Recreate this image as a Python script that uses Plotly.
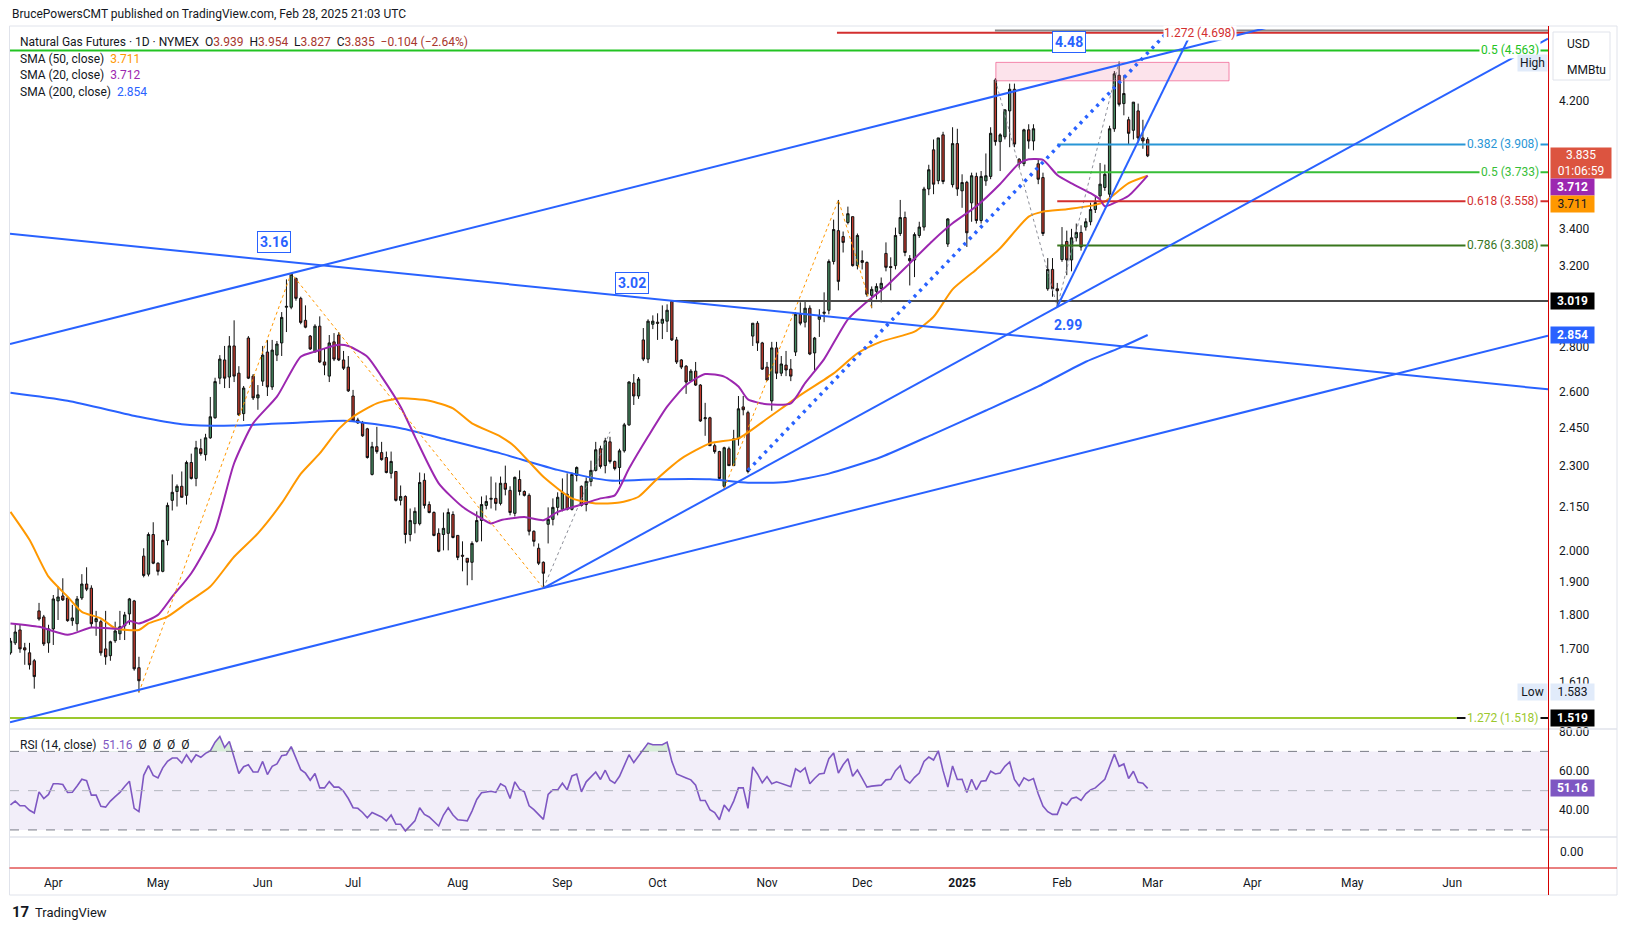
import math
import numpy as np
import pandas as pd
import plotly.graph_objects as go

# ------------------------------------------------------------------ data
first_bar = "2024-03-18"
holidays = ["2024-03-29", "2024-05-27", "2024-06-19", "2024-07-04", "2024-09-02",
            "2024-11-28", "2024-12-25", "2025-01-01", "2025-01-20", "2025-02-17",
            "2025-04-18", "2025-05-26", "2025-06-19", "2025-07-04"]

opens = [
    1.690, 1.718, 1.755, 1.704, 1.690, 1.668, 1.811, 1.793, 1.718,
    1.758, 1.841, 1.856, 1.850, 1.782, 1.773, 1.850, 1.893, 1.880, 1.779,
    1.779, 1.701, 1.682, 1.724, 1.744, 1.767, 1.802, 1.841, 1.649, 1.982,
    1.924, 2.054, 1.959, 1.933, 2.034, 2.173, 2.205, 2.224, 2.191, 2.313,
    2.253, 2.366, 2.343, 2.409, 2.490, 2.658, 2.739, 2.663, 2.803, 2.680,
    2.507, 2.840, 2.667, 2.573, 2.645, 2.775, 2.620, 2.761, 2.817, 2.988,
    2.988, 3.133, 3.032, 2.924, 2.849, 2.775, 2.896, 2.730, 2.667, 2.822,
    2.854, 2.739, 2.707, 2.581, 2.481, 2.469, 2.445, 2.268, 2.374, 2.351,
    2.332, 2.272, 2.279, 2.173, 2.187, 2.054, 2.091, 2.091, 2.246, 2.158,
    2.130, 2.058, 2.054, 2.058, 2.123, 2.051, 1.985, 1.975, 1.962, 2.031,
    2.102, 2.155, 2.177, 2.180, 2.162, 2.235, 2.209, 2.127, 2.249, 2.205,
    2.191, 2.065, 2.008, 1.962, 2.089, 2.106, 2.148, 2.141, 2.195, 2.141,
    2.264, 2.224, 2.158, 2.242, 2.283, 2.366, 2.301, 2.393, 2.317, 2.294,
    2.358, 2.461, 2.637, 2.581, 2.831, 2.743, 2.905, 2.915, 2.910, 2.920,
    3.017, 2.831, 2.739, 2.711, 2.645, 2.689, 2.628, 2.486, 2.490, 2.378,
    2.355, 2.224, 2.366, 2.301, 2.405, 2.535, 2.511, 2.849, 2.910, 2.817,
    2.707, 2.560, 2.794, 2.680, 2.716, 2.698, 2.775, 2.953, 2.915, 2.983,
    2.771, 2.929, 2.958, 2.973, 3.222, 3.390, 3.357, 3.436, 3.469, 3.200,
    3.227, 3.217, 3.047, 3.067, 3.082, 3.265, 3.195, 3.200, 3.374, 3.464,
    3.226, 3.230, 3.363, 3.410, 3.631, 3.873, 3.681, 3.970, 3.316, 3.657,
    3.913, 3.620, 3.671, 3.549, 3.707, 3.447, 3.680, 3.707, 4.346, 3.926,
    3.957, 4.130, 4.280, 3.814, 3.786, 4.003, 3.930, 3.785, 3.700, 3.080,
    3.180, 3.080, 3.232, 3.330, 3.230, 3.350, 3.380, 3.410, 3.440, 3.510,
    3.590, 3.640, 3.600, 4.010, 4.380, 4.180, 4.070, 4.000, 4.130, 3.950,
    3.939]

highs = [
    1.732, 1.775, 1.770, 1.718, 1.718, 1.673, 1.835, 1.799, 1.770,
    1.859, 1.886, 1.911, 1.856, 1.829, 1.856, 1.924, 1.946, 1.889, 1.811,
    1.785, 1.811, 1.724, 1.779, 1.811, 1.808, 1.850, 1.844, 1.679, 2.008,
    2.061, 2.096, 1.962, 2.037, 2.165, 2.268, 2.231, 2.279, 2.320, 2.347,
    2.397, 2.405, 2.425, 2.577, 2.660, 2.761, 2.803, 2.849, 2.924, 2.711,
    2.624, 2.849, 2.676, 2.628, 2.803, 2.831, 2.831, 2.826, 2.964, 3.128,
    3.160, 3.138, 3.040, 2.997, 2.854, 2.905, 2.943, 2.789, 2.854, 2.863,
    2.868, 2.780, 2.757, 2.607, 2.490, 2.477, 2.449, 2.393, 2.453, 2.393,
    2.355, 2.355, 2.279, 2.227, 2.191, 2.144, 2.148, 2.275, 2.272, 2.169,
    2.134, 2.075, 2.130, 2.144, 2.134, 2.051, 2.031, 1.975, 2.031, 2.134,
    2.187, 2.191, 2.260, 2.238, 2.260, 2.301, 2.224, 2.260, 2.283, 2.209,
    2.198, 2.068, 2.024, 1.965, 2.148, 2.180, 2.202, 2.253, 2.272, 2.275,
    2.298, 2.227, 2.257, 2.320, 2.393, 2.378, 2.409, 2.413, 2.320, 2.366,
    2.469, 2.645, 2.676, 2.663, 2.887, 2.929, 2.948, 2.958, 2.997, 3.002,
    3.022, 2.845, 2.743, 2.716, 2.698, 2.730, 2.632, 2.552, 2.494, 2.386,
    2.358, 2.374, 2.374, 2.441, 2.581, 2.581, 2.519, 2.910, 2.920, 2.822,
    2.730, 2.822, 2.822, 2.757, 2.780, 2.743, 2.964, 3.012, 3.017, 2.997,
    2.845, 2.978, 3.062, 3.233, 3.452, 3.566, 3.385, 3.527, 3.469, 3.374,
    3.281, 3.222, 3.092, 3.108, 3.138, 3.325, 3.244, 3.407, 3.566, 3.498,
    3.256, 3.380, 3.440, 3.644, 3.779, 3.940, 3.950, 3.990, 3.460, 4.020,
    4.010, 3.720, 3.680, 3.730, 3.730, 3.740, 3.850, 4.020, 4.360, 3.980,
    4.140, 4.320, 4.320, 3.820, 4.010, 4.040, 4.040, 3.810, 3.730, 3.240,
    3.240, 3.110, 3.410, 3.390, 3.400, 3.430, 3.420, 3.460, 3.550, 3.590,
    3.790, 3.780, 4.030, 4.410, 4.480, 4.380, 4.090, 4.190, 4.180, 4.070,
    3.954]

lows = [
    1.685, 1.712, 1.690, 1.657, 1.644, 1.593, 1.782, 1.709, 1.690,
    1.712, 1.784, 1.841, 1.779, 1.767, 1.752, 1.844, 1.871, 1.761, 1.738,
    1.682, 1.657, 1.668, 1.718, 1.726, 1.726, 1.770, 1.641, 1.583, 1.914,
    1.917, 1.956, 1.920, 1.930, 2.018, 2.137, 2.151, 2.184, 2.158, 2.249,
    2.224, 2.339, 2.320, 2.405, 2.486, 2.632, 2.615, 2.615, 2.641, 2.498,
    2.477, 2.654, 2.564, 2.523, 2.624, 2.581, 2.607, 2.734, 2.757, 2.868,
    2.978, 3.020, 2.905, 2.886, 2.785, 2.775, 2.725, 2.671, 2.641, 2.734,
    2.734, 2.694, 2.598, 2.473, 2.465, 2.413, 2.328, 2.264, 2.347, 2.320,
    2.272, 2.253, 2.169, 2.155, 2.024, 2.031, 2.058, 2.085, 2.144, 2.127,
    2.048, 1.995, 2.001, 2.001, 2.041, 1.969, 1.933, 1.889, 1.905, 2.027,
    2.031, 2.141, 2.144, 2.137, 2.155, 2.191, 2.120, 2.116, 2.191, 2.187,
    2.051, 2.014, 1.953, 1.880, 2.024, 2.085, 2.120, 2.134, 2.137, 2.137,
    2.242, 2.151, 2.134, 2.224, 2.279, 2.290, 2.272, 2.309, 2.283, 2.231,
    2.351, 2.457, 2.543, 2.569, 2.734, 2.725, 2.882, 2.831, 2.835, 2.868,
    2.826, 2.721, 2.698, 2.590, 2.641, 2.624, 2.473, 2.417, 2.378, 2.347,
    2.249, 2.216, 2.301, 2.301, 2.378, 2.500, 2.272, 2.803, 2.780, 2.694,
    2.645, 2.519, 2.654, 2.667, 2.667, 2.645, 2.757, 2.900, 2.890, 2.761,
    2.689, 2.845, 2.915, 2.953, 3.206, 3.072, 3.270, 3.425, 3.195, 3.180,
    3.180, 3.040, 2.983, 3.027, 3.012, 3.170, 3.072, 3.180, 3.360, 3.250,
    3.097, 3.140, 3.350, 3.390, 3.594, 3.600, 3.660, 3.660, 3.300, 3.640,
    3.590, 3.520, 3.300, 3.440, 3.430, 3.430, 3.650, 3.690, 3.900, 3.740,
    3.940, 3.890, 3.890, 3.760, 3.770, 3.880, 3.870, 3.660, 3.360, 3.070,
    3.040, 2.990, 3.220, 3.150, 3.170, 3.330, 3.280, 3.390, 3.420, 3.490,
    3.570, 3.620, 3.580, 3.990, 4.160, 4.100, 3.910, 3.940, 3.920, 3.880,
    3.827]

closes = [
    1.723, 1.749, 1.701, 1.698, 1.657, 1.625, 1.787, 1.715, 1.758,
    1.847, 1.853, 1.844, 1.782, 1.790, 1.847, 1.893, 1.877, 1.773, 1.788,
    1.690, 1.679, 1.721, 1.752, 1.764, 1.799, 1.847, 1.646, 1.614, 1.920,
    2.054, 1.959, 1.933, 2.034, 2.155, 2.202, 2.224, 2.184, 2.313, 2.253,
    2.370, 2.347, 2.409, 2.494, 2.643, 2.743, 2.658, 2.803, 2.667, 2.502,
    2.615, 2.658, 2.573, 2.586, 2.761, 2.620, 2.784, 2.812, 2.938, 2.992,
    3.155, 3.032, 2.914, 2.891, 2.789, 2.896, 2.730, 2.716, 2.817, 2.743,
    2.739, 2.702, 2.603, 2.477, 2.469, 2.417, 2.332, 2.374, 2.355, 2.324,
    2.275, 2.317, 2.173, 2.187, 2.054, 2.102, 2.134, 2.238, 2.155, 2.130,
    2.051, 1.998, 2.075, 2.130, 2.044, 1.978, 1.982, 1.962, 2.024, 2.102,
    2.158, 2.169, 2.180, 2.162, 2.235, 2.213, 2.130, 2.257, 2.205, 2.191,
    2.065, 2.031, 1.959, 1.927, 2.106, 2.148, 2.184, 2.202, 2.141, 2.268,
    2.294, 2.155, 2.242, 2.283, 2.362, 2.298, 2.397, 2.317, 2.290, 2.358,
    2.461, 2.641, 2.581, 2.654, 2.743, 2.920, 2.920, 2.910, 2.929, 2.973,
    2.831, 2.730, 2.707, 2.641, 2.689, 2.628, 2.477, 2.490, 2.378, 2.355,
    2.253, 2.370, 2.301, 2.405, 2.527, 2.523, 2.279, 2.910, 2.817, 2.698,
    2.650, 2.794, 2.680, 2.721, 2.694, 2.667, 2.953, 2.910, 2.983, 2.766,
    2.840, 2.944, 2.963, 3.222, 3.396, 3.118, 3.325, 3.486, 3.200, 3.363,
    3.217, 3.052, 3.077, 3.092, 3.108, 3.191, 3.190, 3.363, 3.464, 3.270,
    3.238, 3.368, 3.410, 3.631, 3.748, 3.660, 3.950, 3.676, 3.456, 3.913,
    3.631, 3.670, 3.378, 3.711, 3.447, 3.707, 3.711, 3.980, 3.926, 3.970,
    4.137, 4.280, 3.910, 3.786, 4.003, 3.930, 4.010, 3.690, 3.374, 3.180,
    3.080, 3.070, 3.310, 3.230, 3.350, 3.380, 3.300, 3.440, 3.510, 3.550,
    3.660, 3.720, 4.010, 4.390, 4.175, 4.250, 3.980, 4.190, 3.950, 3.930,
    3.835]

rsi_values = [
    42.7, 44.7, 42.3, 42.3, 40.0, 38.6, 49.4, 46.0, 48.1,
    53.5, 53.5, 53.1, 49.1, 49.2, 52.4, 55.8, 55.1, 47.7, 47.7,
    42.0, 41.6, 44.7, 47.0, 49.1, 52.1, 54.8, 41.0, 39.3, 57.8,
    62.7, 57.8, 56.5, 61.6, 64.9, 66.6, 66.6, 64.1, 68.3, 64.6,
    68.3, 67.0, 69.0, 70.3, 74.7, 77.6, 72.0, 75.1, 67.0, 58.7,
    62.2, 63.2, 59.5, 59.5, 64.9, 58.2, 62.4, 63.6, 67.8, 68.3,
    72.4, 67.0, 60.7, 58.9, 55.3, 58.7, 51.4, 51.4, 54.6, 51.8,
    51.8, 49.7, 46.0, 41.3, 41.0, 38.9, 36.2, 38.9, 37.9, 36.6,
    34.6, 37.6, 32.9, 32.9, 29.5, 32.2, 34.6, 41.3, 37.9, 36.6,
    34.2, 32.0, 37.6, 41.3, 37.6, 35.2, 34.9, 34.6, 39.6, 45.5,
    48.9, 49.4, 49.7, 49.1, 53.5, 52.1, 46.0, 54.5, 50.8, 49.4,
    42.3, 40.3, 37.9, 35.4, 48.1, 50.4, 50.4, 53.8, 50.4, 57.5,
    58.5, 49.4, 54.5, 57.0, 59.5, 55.7, 60.4, 55.3, 53.8, 57.3,
    62.9, 68.3, 64.3, 67.6, 70.8, 74.2, 73.4, 73.4, 73.4, 74.7,
    64.9, 58.5, 57.3, 56.5, 55.5, 52.8, 45.0, 45.0, 40.3, 38.8,
    35.2, 42.7, 39.6, 44.7, 51.4, 51.4, 41.0, 62.1, 58.5, 54.0,
    57.2, 53.5, 54.5, 53.8, 52.8, 52.0, 61.1, 59.5, 61.6, 53.5,
    56.2, 58.5, 58.9, 66.3, 69.2, 58.9, 63.2, 66.3, 57.3, 60.5,
    56.2, 51.8, 52.3, 52.4, 52.8, 55.5, 55.8, 60.2, 62.7, 55.7,
    53.8, 56.8, 59.0, 64.9, 67.1, 65.6, 70.3, 60.2, 51.8, 62.6,
    55.7, 55.8, 49.1, 55.8, 50.4, 54.8, 55.1, 59.9, 58.5, 59.0,
    62.4, 64.6, 55.7, 52.3, 56.5, 55.1, 56.2, 48.4, 42.2, 39.3,
    37.9, 37.9, 44.0, 42.7, 46.0, 46.7, 45.0, 48.4, 50.4, 51.4,
    53.5, 55.8, 62.2, 68.6, 62.4, 63.6, 56.2, 59.9, 54.3, 53.8,
    51.16]

# moving averages (bar index, value)
sma20_idx = [0, 6, 12, 17, 23, 25, 27, 31, 34, 38, 43, 47, 51, 56, 61, 64, 69, 71, 75, 78,
             82, 85, 90, 95, 99, 101, 103, 108, 112, 115, 119, 124, 127, 130, 134, 138, 142,
             146, 150, 153, 155, 159, 164, 167, 171, 176, 180, 184, 189, 194, 198, 203, 208,
             212, 214, 217, 220, 223, 227, 229, 230, 232, 235, 239]
sma20_val = [1.774, 1.764, 1.741, 1.762, 1.759, 1.781, 1.774, 1.799, 1.854, 1.927, 2.069,
             2.310, 2.467, 2.578, 2.754, 2.777, 2.808, 2.803, 2.754, 2.665, 2.536, 2.414,
             2.235, 2.150, 2.109, 2.092, 2.103, 2.114, 2.103, 2.132, 2.153, 2.180, 2.191,
             2.290, 2.414, 2.536, 2.628, 2.676, 2.665, 2.622, 2.567, 2.546, 2.550, 2.636,
             2.743, 2.929, 3.015, 3.092, 3.212, 3.338, 3.431, 3.529, 3.661, 3.788, 3.813,
             3.809, 3.716, 3.665, 3.606, 3.568, 3.529, 3.549, 3.591, 3.712]

sma50_idx = [0, 4, 8, 12, 15, 19, 22, 27, 29, 33, 37, 42, 47, 52, 57, 61, 65, 69, 72, 77,
             82, 88, 93, 97, 103, 106, 112, 118, 123, 128, 132, 136, 141, 147, 153, 159,
             166, 173, 178, 183, 190, 194, 198, 203, 208, 214, 217, 222, 228, 230, 235, 239]
sma50_val = [2.132, 2.036, 1.916, 1.854, 1.808, 1.789, 1.760, 1.755, 1.774, 1.794, 1.834,
             1.885, 1.980, 2.058, 2.163, 2.270, 2.348, 2.445, 2.494, 2.550, 2.571, 2.561,
             2.529, 2.467, 2.414, 2.374, 2.259, 2.180, 2.162, 2.165, 2.186, 2.253, 2.328,
             2.387, 2.407, 2.486, 2.585, 2.679, 2.769, 2.823, 2.870, 2.941, 3.077, 3.180,
             3.293, 3.469, 3.498, 3.512, 3.537, 3.556, 3.666, 3.711]

sma200_idx = [0, 12, 27, 36, 47, 61, 71, 82, 92, 103, 115, 126, 136, 147, 155, 163, 172,
              183, 194, 205, 216, 226, 233, 239]
sma200_val = [2.595, 2.561, 2.494, 2.464, 2.458, 2.471, 2.477, 2.447, 2.400, 2.348, 2.285,
              2.245, 2.250, 2.250, 2.237, 2.240, 2.271, 2.334, 2.424, 2.520, 2.622, 2.731,
              2.793, 2.854]

# drawings: anchors as (bar index, price)
upper_channel = [(59, 3.16), (233, 4.455)]
falling_line = [(0, 3.372), (139, 3.02)]
lower_channel = [(27, 1.59), (112, 1.88)]
rising_line = [(112, 1.88), (150, 2.213)]
steep_line = [(220, 2.99), (241.6, 4.228)]
dotted_line = [(155, 2.283), (207, 3.496)]
orange_zigzag_1 = [(27, 1.583), (59, 3.16), (112, 1.88)]
orange_zigzag_2 = [(150, 2.216), (174, 3.566), (181, 2.983)]
grey_zigzag_1 = [(112, 1.88), (126, 2.433)]
grey_zigzag_2 = [(207, 4.346), (220, 2.99), (233, 4.48)]
resistance_zone = (207.1, 256.1, 4.340, 4.474)
support_line = (139, 3.019)

fib_start = 220
fib_prices = [3.908, 3.733, 3.558, 3.308]
fib_labels = ["0.382 (3.908)", "0.5 (3.733)", "0.618 (3.558)", "0.786 (3.308)"]
fib_colors = ["#2996d6", "#37be37", "#d32f2f", "#38761d"]

ext_prices = [4.563, 4.698, 4.716, 1.518]
ext_starts = [None, 173.7, 206.9, None]
ext_labels = ["0.5 (4.563)", "1.272 (4.698)", "", "1.272 (1.518)"]
ext_colors = ["#22c322", "#d32f2f", "#8a8a8a", "#9bc82e"]

swing_labels = [("3.16", 59, 3.16, -17, 31, True), ("3.02", 139, 3.02, -40, 18, True),
                ("4.48", 233, 4.48, -50, 20, True), ("2.99", 220, 2.99, 11, -18, False)]

# ------------------------------------------------------------------ layout constants
W, H = 1625, 931
ML, MR, MT, MB = 10, 77, 29, 63
PW, PH = W - ML - MR, H - MT - MB
MAIN_BOTTOM_PX, RSI_BOTTOM_PX = 729, 837
X_LO, X_HI = -0.1, 323.14
Y_LO, Y_HI = 1.4905, 4.727
RSI_LO, RSI_HI = 26.4, 81.4

def pxx(px):
    return (px - ML) / PW

def pxy(py):
    return (H - MB - py) / PH

d_main = pxy(MAIN_BOTTOM_PX)
d_rsi = pxy(RSI_BOTTOM_PX)

BLUE = "#2962ff"
TXT = "#131722"
FONT = "Roboto"

cbd = pd.offsets.CustomBusinessDay(holidays=holidays)
days = pd.date_range(first_bar, periods=340, freq=cbd)
n = len(closes)
xs = np.arange(n)

tickvals, ticktext = [], []
prev = None
for i, d in enumerate(days):
    key = (d.year, d.month)
    if key != prev:
        if prev is not None and i < X_HI - 1:
            tickvals.append(i)
            ticktext.append("<b>2025</b>" if d.month == 1 else d.strftime("%b"))
        prev = key


def line_through(anchors, x0, x1):
    (i1, v1), (i2, v2) = anchors
    s = (math.log(v2) - math.log(v1)) / (i2 - i1)
    f = lambda xx: math.exp(math.log(v1) + s * (xx - i1))
    return [x0, x1], [f(x0), f(x1)]


fig = go.Figure()

# candles
fig.add_trace(go.Candlestick(
    x=xs, open=opens, high=highs, low=lows, close=closes,
    increasing=dict(line=dict(color="#111111", width=1), fillcolor="#458a60"),
    decreasing=dict(line=dict(color="#111111", width=1), fillcolor="#c13a2d"),
    whiskerwidth=0, hoverinfo="skip", xaxis="x", yaxis="y"))

# resistance zone
zx0, zx1, zlo, zhi = resistance_zone
fig.add_trace(go.Scatter(x=[zx0, zx1, zx1, zx0, zx0], y=[zlo, zlo, zhi, zhi, zlo],
                         mode="lines", fill="toself", fillcolor="rgba(240,98,146,0.18)",
                         line=dict(color="rgba(240,98,146,0.75)", width=1), hoverinfo="skip"))

# moving averages
for ix, vals, col in [(sma200_idx, sma200_val, BLUE), (sma50_idx, sma50_val, "#ff9800"),
                      (sma20_idx, sma20_val, "#9c27b0")]:
    fig.add_trace(go.Scatter(x=ix, y=vals, mode="lines",
                             line=dict(color=col, width=2, shape="spline", smoothing=0.6),
                             hoverinfo="skip"))

# zigzags
for pts, col in [(orange_zigzag_1, "#ff9800"), (orange_zigzag_2, "#ff9800"),
                 (grey_zigzag_1, "#8d8f99"), (grey_zigzag_2, "#8d8f99")]:
    fig.add_trace(go.Scatter(x=[p[0] for p in pts], y=[p[1] for p in pts], mode="lines",
                             line=dict(color=col, width=1, dash="dot"), hoverinfo="skip"))

# horizontal levels
for p, st, col in zip(ext_prices, ext_starts, ext_colors):
    fig.add_trace(go.Scatter(x=[X_LO if st is None else st, X_HI], y=[p, p], mode="lines",
                             line=dict(color=col, width=2), hoverinfo="skip"))
for p, col in zip(fib_prices, fib_colors):
    fig.add_trace(go.Scatter(x=[fib_start, X_HI], y=[p, p], mode="lines",
                             line=dict(color=col, width=2), hoverinfo="skip"))
fig.add_trace(go.Scatter(x=[support_line[0], X_HI], y=[support_line[1]] * 2, mode="lines",
                         line=dict(color="#4a4a4a", width=2), hoverinfo="skip"))
fig.add_trace(go.Scatter(x=[304, X_HI], y=[ext_prices[3]] * 2, mode="lines",
                         line=dict(color="#111111", width=2), hoverinfo="skip"))

# trend lines
for anchors, start in [(upper_channel, X_LO), (falling_line, X_LO), (lower_channel, X_LO),
                       (rising_line, None), (steep_line, None)]:
    x0 = anchors[0][0] if start is None else start
    lx, ly = line_through(anchors, x0, X_HI)
    fig.add_trace(go.Scatter(x=lx, y=ly, mode="lines", line=dict(color=BLUE, width=2),
                             hoverinfo="skip"))
lx, ly = line_through(dotted_line, dotted_line[0][0], X_HI)
fig.add_trace(go.Scatter(x=lx, y=ly, mode="lines", line=dict(color=BLUE, width=3.5, dash="3px,5px"),
                         hoverinfo="skip"))

# RSI with overbought / oversold fills
rsi_arr = np.array(rsi_values)
fig.add_trace(go.Scatter(x=xs, y=np.full(n, 70.0), mode="lines", line=dict(width=0),
                         xaxis="x", yaxis="y2", hoverinfo="skip"))
fig.add_trace(go.Scatter(x=xs, y=np.maximum(rsi_arr, 70.0), mode="lines", line=dict(width=0),
                         fill="tonexty", fillcolor="rgba(76,175,80,0.22)",
                         xaxis="x", yaxis="y2", hoverinfo="skip"))
fig.add_trace(go.Scatter(x=xs, y=np.full(n, 30.0), mode="lines", line=dict(width=0),
                         xaxis="x", yaxis="y2", hoverinfo="skip"))
fig.add_trace(go.Scatter(x=xs, y=np.minimum(rsi_arr, 30.0), mode="lines", line=dict(width=0),
                         fill="tonexty", fillcolor="rgba(242,54,69,0.22)",
                         xaxis="x", yaxis="y2", hoverinfo="skip"))
fig.add_trace(go.Scatter(x=xs, y=rsi_values, mode="lines", line=dict(color="#7e57c2", width=1.6),
                         xaxis="x", yaxis="y2", hoverinfo="skip"))

shapes = []
shapes.append(dict(type="rect", xref="x", yref="y2", x0=X_LO, x1=X_HI, y0=30, y1=70,
                   fillcolor="rgba(126,87,194,0.10)", line=dict(width=0), layer="below"))
for lvl, dash, col in [(70, "dash", "#787b86"), (50, "dash", "#b2b5be"), (30, "dash", "#787b86")]:
    shapes.append(dict(type="line", xref="x", yref="y2", x0=X_LO, x1=X_HI, y0=lvl, y1=lvl,
                       line=dict(color=col, width=1, dash=dash)))
# frame / separators
shapes.append(dict(type="rect", xref="paper", yref="paper", x0=pxx(9.5), x1=pxx(1617), y0=pxy(895),
                   y1=pxy(26), line=dict(color="#e0e3eb", width=1)))
for py in (MAIN_BOTTOM_PX, RSI_BOTTOM_PX):
    shapes.append(dict(type="line", xref="paper", yref="paper", x0=pxx(9.5), x1=pxx(1617), y0=pxy(py),
                       y1=pxy(py), line=dict(color="#e0e3eb", width=1.5)))
shapes.append(dict(type="line", xref="paper", yref="paper", x0=pxx(1548.5), x1=pxx(1548.5), y0=pxy(895),
                   y1=pxy(26), line=dict(color="#d40000", width=1)))
shapes.append(dict(type="line", xref="paper", yref="paper", x0=pxx(9.5), x1=pxx(1617), y0=pxy(868),
                   y1=pxy(868), line=dict(color="#d40000", width=1)))
# USD box
shapes.append(dict(type="rect", xref="paper", yref="paper", x0=pxx(1553), x1=pxx(1610), y0=pxy(80),
                   y1=pxy(32), line=dict(color="#e0e3eb", width=1), fillcolor="white"))

ann = []

def text(px, py, s, size=12, color=TXT, xanchor="left", **kw):
    ann.append(dict(xref="paper", yref="paper", x=pxx(px), y=pxy(py), text=s, showarrow=False,
                    xanchor=xanchor, yanchor="middle", font=dict(family=FONT, size=size, color=color), **kw))

RED_TXT = "#a8372d"
nb = "\u00a0"
text(10, 14.5, "BrucePowersCMT published on TradingView.com, Feb 28, 2025 21:03 UTC", size=12)
text(18, 41.5, "Natural Gas Futures · 1D · NYMEX" + nb * 2 +
     f"O<span style='color:{RED_TXT}'>3.939</span>{nb}{nb}H<span style='color:{RED_TXT}'>3.954</span>{nb}{nb}"
     f"L<span style='color:{RED_TXT}'>3.827</span>{nb}{nb}C<span style='color:{RED_TXT}'>3.835</span>{nb}{nb}"
     f"<span style='color:{RED_TXT}'>−0.104 (−2.64%)</span>", size=12)
text(18, 58.5, f"SMA (50, close){nb}{nb}<span style='color:#ff9800'>3.711</span>", size=12)
text(18, 75, f"SMA (20, close){nb}{nb}<span style='color:#9c27b0'>3.712</span>", size=12)
text(18, 92, f"SMA (200, close){nb}{nb}<span style='color:{BLUE}'>2.854</span>", size=12)
text(18, 745, f"RSI (14, close){nb}{nb}<span style='color:#7e57c2'>51.16</span>{nb}{nb}Ø{nb}{nb}Ø{nb}{nb}Ø{nb}{nb}Ø",
     size=12)
text(1565, 43.5, "USD", size=12)
text(1565, 70, "MMBtu", size=12)
text(1558, 852, "0.00", size=12)
text(10, 912, "<b>17</b>", size=15, color="#131722")
text(33, 912, "TradingView", size=13, color="#131722")

# level labels
for lab, p, col in zip(fib_labels, fib_prices, fib_colors):
    ann.append(dict(xref="paper", yref="y", x=pxx(1541), y=math.log10(p), text=lab, showarrow=False,
                    xanchor="right", yanchor="middle", bgcolor="white", borderpad=1,
                    font=dict(family=FONT, size=12, color=col)))
for lab, p, col, st in zip(ext_labels, ext_prices, ext_colors, ext_starts):
    if not lab:
        continue
    if st is None:
        ann.append(dict(xref="paper", yref="y", x=pxx(1541), y=math.log10(p), text=lab, showarrow=False,
                        xanchor="right", yanchor="middle", bgcolor="white", borderpad=1,
                        font=dict(family=FONT, size=12, color=col)))
    else:
        ann.append(dict(xref="x", yref="y", x=250, y=math.log10(p), text=lab, showarrow=False,
                        xanchor="center", yanchor="middle", bgcolor="white", borderpad=0,
                        font=dict(family=FONT, size=12, color=col)))

# swing labels
for lab, i, p, dx, dy, boxed in swing_labels:
    d = dict(xref="x", yref="y", x=i, y=math.log10(p), text=f"<b>{lab}</b>", showarrow=False,
             xshift=dx, yshift=dy, font=dict(family=FONT, size=14, color=BLUE))
    if boxed:
        d.update(bgcolor="white", bordercolor=BLUE, borderwidth=1, borderpad=2)
    ann.append(d)

# price-scale tags
def tag(p, s, bg, fg="white", yref="y", w=41, h=14, yshift=0, x_px=1550, xanchor="left"):
    yv = math.log10(p) if yref == "y" else p
    ann.append(dict(xref="paper", yref=yref, x=pxx(x_px), y=yv, text=s, showarrow=False,
                    xanchor=xanchor, yanchor="middle", bgcolor=bg, borderpad=1, width=w, height=h,
                    yshift=yshift, align="center", font=dict(family=FONT, size=12, color=fg)))

tag(3.835, "3.835<br>01:06:59", "#dc5440", w=58, h=28, yshift=-7.5)
tag(3.712, "<b>3.712</b>", "#9c27b0", yshift=-11.5)
tag(3.711, "3.711", "#ff9800", fg="#131722", yshift=-28.5)
tag(3.019, "<b>3.019</b>", "#000000")
tag(2.854, "<b>2.854</b>", BLUE)
tag(1.519, "<b>1.519</b>", "#000000")
tag(1.583, "1.583", "#e1ebfa", fg=TXT)
tag(1.583, "Low", "#e1ebfa", fg=TXT, w=27, x_px=1548, xanchor="right")
tag(4.48, "High", "#e1ebfa", fg=TXT, w=27, x_px=1548, xanchor="right", yshift=-1)
tag(51.16, "<b>51.16</b>", "#7e57c2", yref="y2")

fig.update_layout(
    width=W, height=H, margin=dict(l=ML, r=MR, t=MT, b=MB),
    paper_bgcolor="white", plot_bgcolor="white", showlegend=False,
    font=dict(family=FONT, size=12, color=TXT),
    xaxis=dict(range=[X_LO, X_HI], tickvals=tickvals, ticktext=ticktext, showgrid=False,
               zeroline=False, showline=False, ticks="", rangeslider=dict(visible=False),
               anchor="free", position=0, ticklabelstandoff=6, tickfont=dict(size=12, color=TXT)),
    yaxis=dict(domain=[d_main, 1], type="log", range=[math.log10(Y_LO), math.log10(Y_HI)],
               side="right", anchor="x", showgrid=False, zeroline=False, ticks="",
               tickvals=[4.2, 3.4, 3.2, 2.8, 2.6, 2.45, 2.3, 2.15, 2.0, 1.9, 1.8, 1.7, 1.61],
               ticktext=["4.200", "3.400", "3.200", "2.800", "2.600", "2.450", "2.300", "2.150",
                         "2.000", "1.900", "1.800", "1.700", "1.610"],
               ticklabelstandoff=10, tickfont=dict(size=12, color=TXT)),
    yaxis2=dict(domain=[d_rsi, d_main], range=[RSI_LO, RSI_HI], side="right", anchor="x",
                showgrid=False, zeroline=False, ticks="", tickvals=[40, 60, 80],
                ticktext=["40.00", "60.00", "80.00"], ticklabelstandoff=10,
                tickfont=dict(size=12, color=TXT)),
    shapes=shapes, annotations=ann,
)

fig.write_html("out.html", config={"displayModeBar": False},
               post_script="document.body.style.margin='0px'; document.body.style.overflow='hidden';")
